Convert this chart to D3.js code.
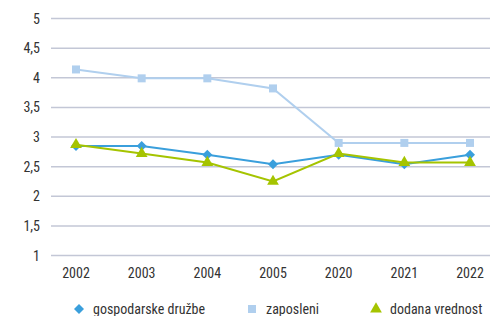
<!DOCTYPE html>
<html>
<head>
<meta charset="utf-8">
<script src="https://cdn.jsdelivr.net/npm/d3@7"></script>
<style>
  body { margin: 0; background: #fff; }
  text { font-family: "Roboto Condensed", "Liberation Sans Narrow", sans-serif; font-weight: 400; fill: #333; }
</style>
</head>
<body>
<div id="chart"></div>
<script>
// --- Data ---
const years = ["2002", "2003", "2004", "2005", "2020", "2021", "2022"];
const druzbe = [2.85, 2.85, 2.70, 2.54, 2.70, 2.54, 2.70];
const zaposleni = [4.14, 3.99, 3.99, 3.82, 2.90, 2.90, 2.90];
const dodana = [2.87, 2.72, 2.57, 2.25, 2.72, 2.57, 2.57];
const yTicks = [1, 1.5, 2, 2.5, 3, 3.5, 4, 4.5, 5];

const series = [
    { name: "gospodarske družbe", values: druzbe, color: "#3a9fdc", shape: "diamond" },
    { name: "zaposleni", values: zaposleni, color: "#b0cfee", shape: "square" },
    { name: "dodana vrednost", values: dodana, color: "#a5c400", shape: "triangle" }
];

// --- Layout ---
const w = 490, h = 316;
const plotLeft = 51, plotRight = 490, plotTop = 18.5, plotBottom = 255.5;

const svg = d3.select("#chart").append("svg")
    .attr("width", w)
    .attr("height", h);

const x = d3.scalePoint()
    .domain(years)
    .range([76, 470]);

const y = d3.scaleLinear()
    .domain([1, 5])
    .range([plotBottom, plotTop]);

// gridlines
svg.selectAll("line.grid")
    .data(yTicks)
    .enter()
    .append("line")
    .attr("class", "grid")
    .attr("x1", plotLeft)
    .attr("x2", plotRight)
    .attr("y1", d => y(d))
    .attr("y2", d => y(d))
    .attr("stroke", "#c3c7d6")
    .attr("stroke-width", 1.5);

// y labels
svg.selectAll("text.ylab")
    .data(yTicks)
    .enter()
    .append("text")
    .attr("class", "ylab")
    .attr("x", 40)
    .attr("y", d => y(d) + 5)
    .attr("text-anchor", "end")
    .attr("font-size", "14px")
    .text(d => String(d).replace(".", ","));

// x labels
svg.selectAll("text.xlab")
    .data(years)
    .enter()
    .append("text")
    .attr("class", "xlab")
    .attr("x", d => x(d))
    .attr("y", 278)
    .attr("text-anchor", "middle")
    .attr("font-size", "14px")
    .text(d => d);

// diamond = square turned 45 degrees
const symbolFor = {
    diamond: d3.symbol().type(d3.symbolSquare).size(50),
    square: d3.symbol().type(d3.symbolSquare).size(64),
    triangle: d3.symbol().type(d3.symbolTriangle).size(60)
};
const rotFor = { diamond: " rotate(45)", square: "", triangle: "" };

const line = d3.line()
    .x((d, i) => x(years[i]))
    .y(d => y(d));

// draw series (zaposleni first so others sit on top)
[series[1], series[0], series[2]].forEach(function (s) {
    svg.append("path")
        .datum(s.values)
        .attr("d", line)
        .attr("fill", "none")
        .attr("stroke", s.color)
        .attr("stroke-width", 2);

    svg.selectAll(null)
        .data(s.values)
        .enter()
        .append("path")
        .attr("d", symbolFor[s.shape])
        .attr("transform", (d, i) => "translate(" + x(years[i]) + "," + y(d) + ")" + rotFor[s.shape])
        .attr("fill", s.color);
});

// legend
const legendX = [79, 252, 376];
series.forEach(function (s, i) {
    svg.append("path")
        .attr("d", symbolFor[s.shape])
        .attr("transform", "translate(" + legendX[i] + ",309)" + rotFor[s.shape])
        .attr("fill", s.color);
    svg.append("text")
        .attr("x", legendX[i] + 14)
        .attr("y", 314)
        .attr("font-size", "14px")
        .text(s.name);
});
</script>
</body>
</html>
